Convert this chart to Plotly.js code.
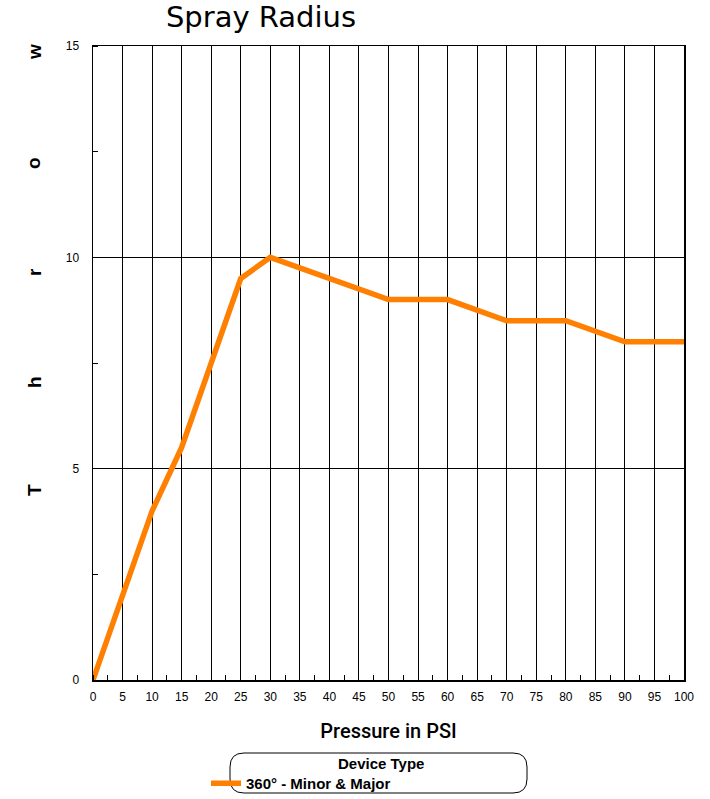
<!DOCTYPE html>
<html><head><meta charset="utf-8">
<script src="https://cdn.plot.ly/plotly-3.0.1.min.js"></script>
<style>body{margin:0;background:#fff}#chart{width:710px;height:799px}</style>
</head><body><div id="chart"></div>
<script>
const pressure = [0, 10, 15, 25, 30, 50, 60, 70, 80, 90, 100];
const throwFt = [0, 4, 5.5, 9.5, 10, 9, 9, 8.5, 8.5, 8, 8];
const seriesName = "360° - Minor & Major";
const xTicks = [0,5,10,15,20,25,30,35,40,45,50,55,60,65,70,75,80,85,90,95,100];
const yTicks = [0,5,10,15];
const yLetters = ["T","h","r","o","w"];

const W = 710, H = 799, ml = 93, mr = 26, mt = 46, mb = 119;
const pw = W - ml - mr, ph = H - mt - mb;
const px = x => (x - ml) / pw;
const py = y => (H - mb - y) / ph;

const letterY = [490, 382, 272, 163, 52];
const annotations = yLetters.map((l, i) => ({
  text: l, xref: 'paper', yref: 'paper', x: px(34), y: py(letterY[i]),
  xanchor: 'center', yanchor: 'middle', showarrow: false, textangle: -90,
  font: {family: 'Liberation Sans, Arial, sans-serif', size: 19, color: '#000', weight: 'bold'}
}));
annotations.push({
  text: '<b>Device Type</b>', xref: 'paper', yref: 'paper', x: px(381), y: py(763),
  xanchor: 'center', yanchor: 'middle', showarrow: false,
  font: {family: 'Liberation Sans, Arial, sans-serif', size: 15, color: '#000'}
});

// rounded legend box
const x0 = px(230), x1 = px(527), y0 = py(793), y1 = py(753);
const r = 14;
const rx = r / pw, ry = r / ph;
const boxPath = `M ${x0+rx},${y1} L ${x1-rx},${y1} Q ${x1},${y1} ${x1},${y1-ry} L ${x1},${y0+ry} Q ${x1},${y0} ${x1-rx},${y0} L ${x0+rx},${y0} Q ${x0},${y0} ${x0},${y0+ry} L ${x0},${y1-ry} Q ${x0},${y1} ${x0+rx},${y1} Z`;

const trace = {
  x: pressure, y: throwFt, name: seriesName, type: 'scatter', mode: 'lines',
  line: {color: '#FF7F00', width: 5.5}
};

const layout = {
  width: W, height: H,
  margin: {l: ml, r: mr, t: mt, b: mb, pad: 0, autoexpand: false},
  paper_bgcolor: '#fff', plot_bgcolor: '#fff',
  title: {text: 'Spray Radius', xref: 'paper', x: px(261), xanchor: 'center', yref: 'container', y: 1 - 17/H, yanchor: 'middle',
    font: {family: 'DejaVu Sans, sans-serif', size: 29, color: '#000'}},
  xaxis: {
    range: [0, 100], tickvals: xTicks, ticktext: xTicks.map(String),
    showgrid: true, gridcolor: '#000', gridwidth: 1,
    showline: true, linecolor: '#000', linewidth: 1.5, mirror: true,
    ticks: '', zeroline: false, ticklabelstandoff: 5,
    tickfont: {family: 'Liberation Sans, Arial, sans-serif', size: 12, color: '#000'},
    minor: {dtick: 2.5, tick0: 0, ticks: 'inside', ticklen: 5, tickcolor: '#000', showgrid: false},
    title: {text: 'Pressure in PSI', standoff: 21,
      font: {family: 'Roboto, Liberation Sans, Arial, sans-serif', size: 20, color: '#000', weight: 500}}
  },
  yaxis: {
    range: [0, 15], tickvals: yTicks, ticktext: yTicks.map(String),
    showgrid: true, gridcolor: '#000', gridwidth: 1,
    showline: true, linecolor: '#000', linewidth: 1.5, mirror: true,
    ticks: '', zeroline: false, ticklabelstandoff: 10,
    tickfont: {family: 'Liberation Sans, Arial, sans-serif', size: 12, color: '#000'},
    minor: {dtick: 2.5, tick0: 0, ticks: 'inside', ticklen: 5, tickcolor: '#000', showgrid: false}
  },
  showlegend: true,
  legend: {x: px(206), y: py(767), xanchor: 'left', yanchor: 'top', bgcolor: 'rgba(0,0,0,0)',
    borderwidth: 0, itemwidth: 30,
    font: {family: 'Liberation Sans, Arial, sans-serif', size: 15, color: '#000', weight: 'bold'}},
  shapes: [{type: 'path', path: boxPath, xref: 'paper', yref: 'paper', line: {color: '#000', width: 1}, fillcolor: 'rgba(0,0,0,0)'}],
  annotations: annotations
};
Plotly.newPlot('chart', [trace], layout, {displayModeBar: false, staticPlot: true});
</script></body></html>
